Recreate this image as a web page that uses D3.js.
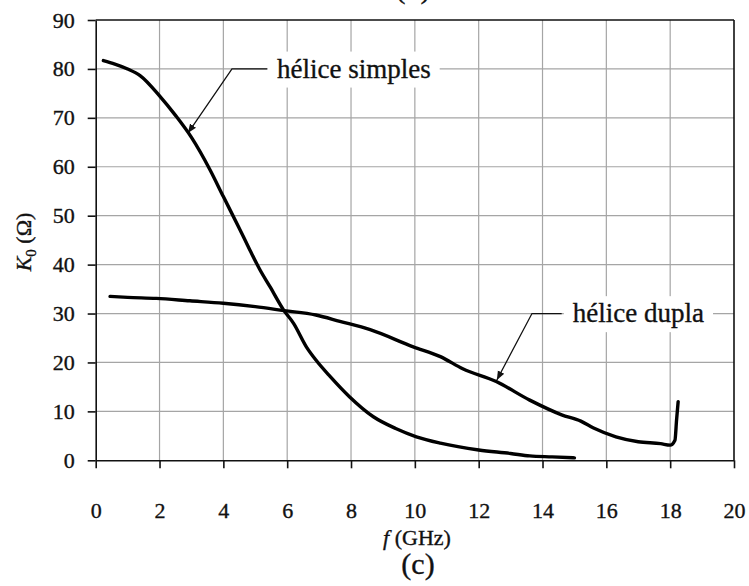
<!DOCTYPE html>
<html>
<head>
<meta charset="utf-8">
<script src="https://cdn.jsdelivr.net/npm/d3@7"></script>
<style>
  body { margin: 0; background: #fff; }
  text { font-family: "Liberation Serif", "DejaVu Serif", serif; fill: #111; stroke: #111; stroke-width: 0.35px; }
</style>
</head>
<body>
<div id="chart"></div>
<script>
const w = 749;
const h = 586;

// data: [f (GHz), K0 (ohm)]
const simples = [
  [0.24, 81.7], [0.6, 81.0], [1.0, 80.0], [1.4, 78.6], [2.0, 74.5], [2.5, 70.5],
  [3.0, 66.0], [3.58, 59.4], [4.0, 53.9], [4.47, 47.8], [4.83, 43.0], [5.15, 38.9],
  [5.46, 35.5], [5.9, 30.6], [6.2, 28.0], [6.6, 23.2], [6.9, 20.5],
  [7.35, 17.1], [7.95, 13.0], [8.7, 8.9], [9.4, 6.5], [10.05, 4.8], [10.8, 3.5],
  [12.0, 2.1], [13.0, 1.4], [13.6, 0.9], [14.3, 0.7], [15.0, 0.5]
];
const dupla = [
  [0.45, 33.5], [1.0, 33.3], [1.9, 33.1], [2.95, 32.6], [4.0, 32.1], [5.0, 31.4],
  [5.9, 30.6], [6.9, 29.7], [7.65, 28.4], [8.6, 26.7], [9.95, 23.2], [10.8, 21.2],
  [11.5, 18.7], [12.55, 16.1], [13.6, 12.3], [14.6, 9.3], [15.2, 8.0], [15.6, 6.6],
  [16.3, 4.8], [17.0, 3.8], [17.7, 3.4], [18.0, 3.1], [18.15, 4.1], [18.2, 8.2], [18.25, 12.0]
];
const xTicks = [0, 2, 4, 6, 8, 10, 12, 14, 16, 18, 20];
const yTicks = [0, 10, 20, 30, 40, 50, 60, 70, 80, 90];
const labels = ['hélice simples', 'hélice dupla'];

const x = d3.scaleLinear().domain([0, 20]).range([95.7, 734]);
const y = d3.scaleLinear().domain([0, 90]).range([460.3, 20]);

const svg = d3.select('#chart')
              .append('svg')
              .attr('width', w)
              .attr('height', h);

// grid
svg.append('g')
   .selectAll('line')
   .data(xTicks.slice(1, -1))
   .enter()
   .append('line')
   .attr('x1', d => x(d)).attr('x2', d => x(d))
   .attr('y1', y(0)).attr('y2', y(90))
   .attr('stroke', '#a5a5a5').attr('stroke-width', 1.2);
svg.append('g')
   .selectAll('line')
   .data(yTicks.slice(1, -1))
   .enter()
   .append('line')
   .attr('x1', x(0)).attr('x2', x(20))
   .attr('y1', d => y(d)).attr('y2', d => y(d))
   .attr('stroke', '#a5a5a5').attr('stroke-width', 1.2);

// annotations: label boxes hide the grid
const notes = [
  { text: labels[0], tip: [2.89, 66.9], knee: [4.27, 80], end: [5.37, 80], tx: 5.68 },
  { text: labels[1], tip: [12.57, 16.4], knee: [13.67, 30], end: [14.6, 30], tx: 14.95 }
];

const noteG = svg.append('g');
notes.forEach(n => {
  const t = noteG.append('text')
     .attr('x', x(n.tx))
     .attr('y', y(n.knee[1]))
     .attr('dy', '0.32em')
     .attr('font-size', 27)
     .text(n.text);
  const bb = t.node().getBBox();
  noteG.insert('rect', 'text')
     .attr('x', bb.x - 9).attr('y', bb.y - 2)
     .attr('width', bb.width + 18).attr('height', bb.height + 6)
     .attr('fill', '#fff');
});

svg.append('defs')
   .append('marker')
   .attr('id', 'arrow')
   .attr('viewBox', '0 0 10 10')
   .attr('refX', 10).attr('refY', 5)
   .attr('markerWidth', 9).attr('markerHeight', 9)
   .attr('markerUnits', 'userSpaceOnUse')
   .attr('orient', 'auto')
   .append('path')
   .attr('d', 'M0,1 L10,5 L0,9 Z')
   .attr('fill', '#111');

svg.append('g')
   .selectAll('polyline')
   .data(notes)
   .enter()
   .append('polyline')
   .attr('points', d => [d.end, d.knee, d.tip].map(p => x(p[0]) + ',' + y(p[1])).join(' '))
   .attr('fill', 'none')
   .attr('stroke', '#111')
   .attr('stroke-width', 1.3)
   .attr('marker-end', 'url(#arrow)');

// axes
const xAxis = d3.axisBottom(x).tickValues(xTicks).tickSize(8).tickSizeOuter(0).tickPadding(34);
const yAxis = d3.axisLeft(y).tickValues(yTicks).tickSize(8).tickSizeOuter(0).tickPadding(13);

const gx = svg.append('g')
   .attr('transform', 'translate(0,' + y(0) + ')')
   .call(xAxis);
const gy = svg.append('g')
   .attr('transform', 'translate(' + x(0) + ',0)')
   .call(yAxis);

[gx, gy].forEach(g => {
  g.selectAll('path, line').attr('stroke', '#111').attr('stroke-width', 1.6);
  g.selectAll('text').attr('font-size', 22).attr('fill', '#111')
   .style('font-family', '"Liberation Serif", serif');
});

// top and right frame
svg.append('line')
   .attr('x1', x(0)).attr('x2', x(20)).attr('y1', y(90)).attr('y2', y(90))
   .attr('stroke', '#111').attr('stroke-width', 1.6);
svg.append('line')
   .attr('x1', x(20)).attr('x2', x(20)).attr('y1', y(90)).attr('y2', y(0))
   .attr('stroke', '#111').attr('stroke-width', 1.6);

// curves
const line = d3.line().curve(d3.curveMonotoneX).x(d => x(d[0])).y(d => y(d[1]));
svg.append('g')
   .selectAll('path')
   .data([simples, dupla])
   .enter()
   .append('path')
   .attr('d', line)
   .attr('fill', 'none')
   .attr('stroke', '#000')
   .attr('stroke-width', 3.4)
   .attr('stroke-linejoin', 'round')
   .attr('stroke-linecap', 'round');

// axis titles
const ylab = svg.append('text')
   .attr('transform', 'translate(31,242) rotate(-90)')
   .attr('text-anchor', 'middle')
   .attr('font-size', 22);
ylab.append('tspan').attr('font-style', 'italic').text('K');
ylab.append('tspan').attr('font-size', 15).attr('dy', 5).text('0');
ylab.append('tspan').attr('dy', -5).text(' (Ω)');

const xlab = svg.append('text')
   .attr('x', 417).attr('y', 545)
   .attr('text-anchor', 'middle')
   .attr('font-size', 22);
xlab.append('tspan').attr('font-style', 'italic').text('f');
xlab.append('tspan').text(' (GHz)');

svg.append('text')
   .attr('x', 418).attr('y', 574)
   .attr('text-anchor', 'middle')
   .attr('font-size', 30)
   .text('(c)');

// caption of the panel above, cut off by the page edge
svg.append('text')
   .attr('x', 413).attr('y', -2.5)
   .attr('text-anchor', 'middle')
   .attr('font-size', 30)
   .text('(b)');
</script>
</body>
</html>
